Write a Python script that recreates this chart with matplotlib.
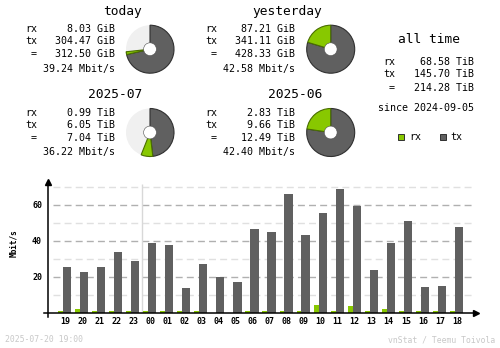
import matplotlib
matplotlib.use("Agg")
import matplotlib.pyplot as plt
from matplotlib.patches import Wedge, Circle, Rectangle
import numpy as np

# hourly traffic, Mbit/s
hours = ['19', '20', '21', '22', '23', '00', '01', '02', '03', '04', '05', '06',
         '07', '08', '09', '10', '11', '12', '13', '14', '15', '16', '17', '18']
rx_rate = [0.9, 2.2, 0.9, 0.9, 0.9, 1.3, 0.9, 0.9, 0.9, 0.0, 0.0, 0.9,
           0.9, 0.9, 0.9, 4.4, 1.3, 3.9, 0.9, 2.2, 0.9, 0.9, 0.9, 1.3]
tx_rate = [25.6, 22.8, 25.6, 33.9, 28.9, 38.9, 37.8, 13.9, 27.2, 20.0, 17.2, 46.7,
           45.0, 66.1, 43.3, 55.6, 68.9, 59.4, 23.9, 38.9, 51.1, 14.4, 15.0, 47.8]

# summary blocks
periods = ['today', 'yesterday', '2025-07', '2025-06']
rx_txt = ['8.03 GiB', '87.21 GiB', '0.99 TiB', '2.83 TiB']
tx_txt = ['304.47 GiB', '341.11 GiB', '6.05 TiB', '9.66 TiB']
tot_txt = ['312.50 GiB', '428.33 GiB', '7.04 TiB', '12.49 TiB']
rate_txt = ['39.24 Mbit/s', '42.58 Mbit/s', '36.22 Mbit/s', '42.40 Mbit/s']
rx_amt = [8.03, 87.21, 0.99, 2.83]
tx_amt = [304.47, 341.11, 6.05, 9.66]
filled = [0.733, 1.0, 0.56, 1.0]   # share of the donut that is drawn

alltime_rx = '68.58 TiB'
alltime_tx = '145.70 TiB'
alltime_tot = '214.28 TiB'
since = 'since 2024-09-05'
stamp = '2025-07-20 19:00'

RX = '#88c800'
TX = '#606060'
MONO = 'DejaVu Sans Mono'

fig = plt.figure(figsize=(5, 3.48), dpi=100)

# ---- hourly bar chart ----
ax = fig.add_axes([48 / 500, 1 - 313 / 348, 430 / 500, 133 / 348])
ax.set_xlim(-0.998, 24.24)
ax.set_ylim(0, 73.9)
ax.axis('off')
pos = np.arange(len(hours))

for v in [10, 30, 50, 70]:
    ax.hlines(v, -0.70, 23.93, colors='#e0e0e0', lw=1, linestyles=(0, (5, 3)))
for v in [20, 40, 60]:
    ax.hlines(v, -0.70, 23.93, colors='#b0b0b0', lw=1, linestyles=(0, (5, 3)))
    ax.text(-1.35, v, str(v), ha='right', va='center', fontsize=6,
            family=MONO, fontweight='bold')
ax.vlines(4.5, 0, 71.7, colors='#d8d8d8', lw=1)

ax.bar(pos - 0.26, rx_rate, width=0.30, color=RX, zorder=3)
ax.bar(pos + 0.12, tx_rate, width=0.48, color=TX, zorder=3)

for p, h in zip(pos, hours):
    ax.text(p, -4.5, h, ha='center', va='center', fontsize=6, family=MONO,
            fontweight='bold')

ax.plot([-1.23, 24.2], [0, 0], color='black', lw=1.1, clip_on=False, zorder=4)
ax.plot([-0.998, -0.998], [-2.0, 72.5], color='black', lw=1.1, clip_on=False, zorder=4)
ax.plot([24.1], [0], marker='>', color='black', ms=4, clip_on=False, zorder=5)
ax.plot([-0.998], [72.8], marker='^', color='black', ms=4, clip_on=False, zorder=5)

# ---- overlay in pixel coordinates ----
ov = fig.add_axes([0, 0, 1, 1])
ov.set_xlim(0, 500)
ov.set_ylim(348, 0)
ov.axis('off')
ov.patch.set_visible(False)

ov.text(14, 243, 'Mbit/s', rotation=90, ha='center', va='center', fontsize=5.6,
        family=MONO, fontweight='bold')

# block layout: (title right edge, label right, value right, donut x, top y)
blocks = [(142, 37, 115, 150, 0), (322, 217, 295, 330.7, 0),
          (142, 37, 115, 150, 83.3), (322, 217, 295, 330.7, 83.3)]
for i, (tr, lr, vr, cx, dy) in enumerate(blocks):
    ov.text(tr, 11 + dy, periods[i], ha='right', va='center', fontsize=9.3, family=MONO)
    ov.text(lr, 29.3 + dy, 'rx', ha='right', va='center', fontsize=7.2, family=MONO)
    ov.text(lr, 41.3 + dy, 'tx', ha='right', va='center', fontsize=7.2, family=MONO)
    ov.text(lr, 54.3 + dy, '=', ha='right', va='center', fontsize=7.2, family=MONO)
    ov.text(vr, 29.3 + dy, rx_txt[i], ha='right', va='center', fontsize=7.2, family=MONO)
    ov.text(vr, 41.3 + dy, tx_txt[i], ha='right', va='center', fontsize=7.2, family=MONO)
    ov.text(vr, 54.3 + dy, tot_txt[i], ha='right', va='center', fontsize=7.2, family=MONO)
    ov.text(vr, 69 + dy, rate_txt[i], ha='right', va='center', fontsize=7.2, family=MONO)

    cy = 49.2 + dy
    tot = rx_amt[i] + tx_amt[i]
    a_all = 360 * filled[i]
    a_tx = a_all * tx_amt[i] / tot
    ov.add_patch(Circle((cx, cy), 24, color='#f0f0f0', lw=0))
    # y axis is inverted, so angles run clockwise from the top
    ov.add_patch(Wedge((cx, cy), 24, -90, -90 + a_tx, facecolor=TX,
                       edgecolor='#303030', lw=0.8))
    ov.add_patch(Wedge((cx, cy), 24, -90 + a_tx, -90 + a_all, facecolor=RX,
                       edgecolor='#4a6e00', lw=0.8))
    ov.add_patch(Circle((cx, cy), 6.4, facecolor='white', edgecolor='#505050', lw=0.4))

# all time block
ov.text(428.5, 39.3, 'all time', ha='center', va='center', fontsize=9.3, family=MONO)
ov.text(395.7, 62, 'rx', ha='right', va='center', fontsize=7.2, family=MONO)
ov.text(395.7, 73.7, 'tx', ha='right', va='center', fontsize=7.2, family=MONO)
ov.text(394.5, 87.7, '=', ha='right', va='center', fontsize=7.2, family=MONO)
ov.text(474, 62, alltime_rx, ha='right', va='center', fontsize=7.2, family=MONO)
ov.text(474, 73.7, alltime_tx, ha='right', va='center', fontsize=7.2, family=MONO)
ov.text(474, 87.7, alltime_tot, ha='right', va='center', fontsize=7.2, family=MONO)
ov.text(474, 107.7, since, ha='right', va='center', fontsize=7.2, family=MONO)

# legend
ov.add_patch(Rectangle((398.3, 134), 6, 6, facecolor=RX, edgecolor='#303030', lw=0.7))
ov.text(409, 137, 'rx', ha='left', va='center', fontsize=7.2, family=MONO)
ov.add_patch(Rectangle((440.3, 134), 6, 6, facecolor=TX, edgecolor='#303030', lw=0.7))
ov.text(450.7, 137, 'tx', ha='left', va='center', fontsize=7.2, family=MONO)

# footer
ov.text(5, 340, stamp, ha='left', va='center', fontsize=5.9, family=MONO, color='#c8c8c8')
ov.text(495, 340, 'vnStat / Teemu Toivola', ha='right', va='center', fontsize=5.9,
        family=MONO, color='#c8c8c8')

fig.savefig('out.png', dpi=100, facecolor='white')
